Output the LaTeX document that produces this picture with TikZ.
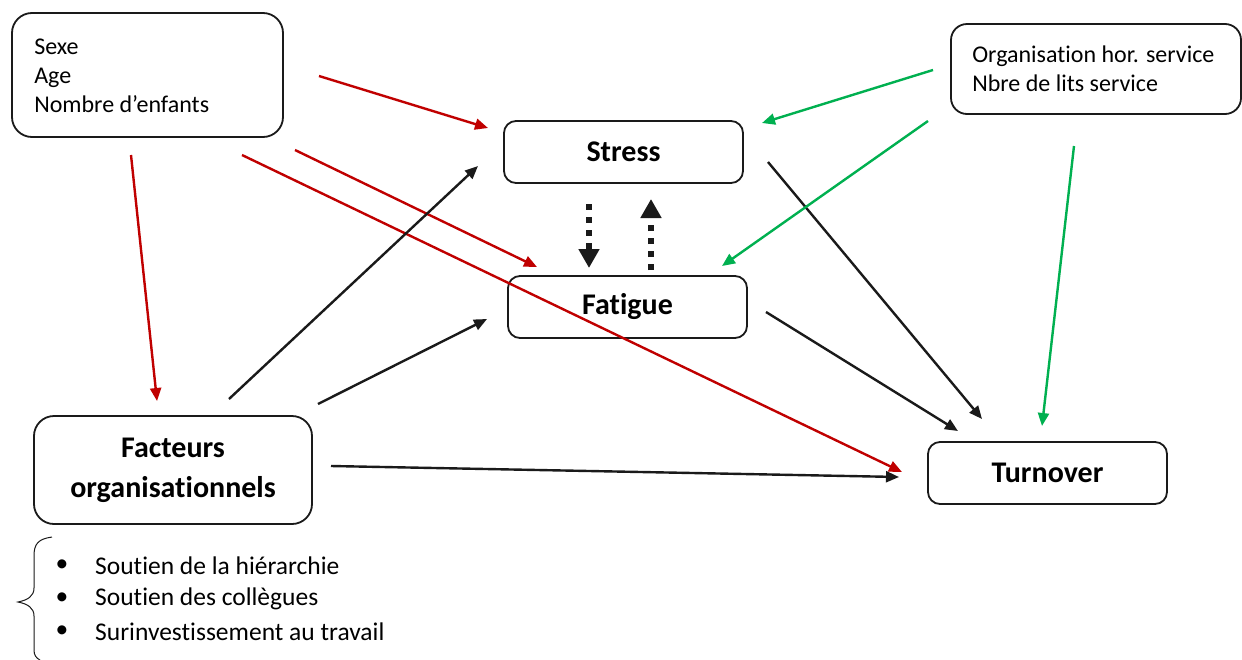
\documentclass[tikz,border=0pt]{standalone}
\usepackage{fontspec}
\setmainfont{Carlito}[Ligatures=NoCommon]
\usetikzlibrary{arrows.meta}
\definecolor{myred}{HTML}{C00000}
\definecolor{mygreen}{HTML}{00B050}
\definecolor{myblack}{HTML}{1A1A1A}
\newcommand{\regsz}{\fontsize{24}{29}\selectfont}
\newcommand{\listsz}{\fontsize{25.5}{33}\selectfont}
\newcommand{\boldsz}{\fontsize{30}{40}\selectfont\bfseries}
\begin{document}
\begin{tikzpicture}[x=1pt,y=-1pt,
  box/.style={draw=myblack, line width=1.8pt, rounded corners=12pt},
  bigbox/.style={box, minimum width=239pt, minimum height=62pt, font=\boldsz, inner sep=0pt},
  boxtext/.style={anchor=west, align=left, font=\regsz, inner sep=0pt},
  conn/.style={line width=2.4pt, -{Triangle[length=13pt,width=11pt]}},
  redarr/.style={conn, draw=myred, fill=myred},
  greenarr/.style={conn, draw=mygreen, fill=mygreen},
  blackarr/.style={conn, draw=myblack, fill=myblack},
  dotarr/.style={line width=6pt, draw=myblack, dash pattern=on 6pt off 7pt, -{Triangle[length=19pt,width=20pt]}},
  listtext/.style={anchor=west, font=\listsz, inner sep=0pt},
  bullet/.style={font=\listsz, inner sep=0pt}
]
\useasboundingbox (0,0) rectangle (1242,659);
\fill[white] (0,0) rectangle (1242,659);

% boxes
\node[box, rounded corners=20pt, minimum width=271pt, minimum height=124pt] (demo) at (147.5,75) {};
\node[boxtext] (demotxt) at ([xshift=23pt,yshift=-1pt]demo.west) {Sexe\\Age\\Nombre d’enfants};
\node[box, rounded corners=16pt, minimum width=290pt, minimum height=90pt] (org) at (1096,69) {};
\node[boxtext] (orgtxt) at ([xshift=22pt]org.west) {Organisation hor. service\\Nbre de lits service};
\node[bigbox] (stress) at (623.5,152) {Stress};
\node[bigbox] (fatigue) at (627.5,307) {Fatigue};
\node[bigbox] (turnover) at (1047.5,473) {Turnover};
\node[box, rounded corners=20pt, minimum width=278pt, minimum height=108pt, align=center,
      font=\boldsz, inner sep=0pt] (fact) at (173,470) {Facteurs\\organisationnels};

% brace
\draw[myblack, line width=1pt] (52,537) .. controls (38,539) and (34,544) .. (34,556)
  -- (34,588) .. controls (34,596) and (28,600) .. (18,602)
  .. controls (28,604) and (34,608) .. (34,616)
  -- (34,650) .. controls (34,655) and (36,658) .. (40,660);

% bullet list
\node[bullet] (b1) at (62,566) {•};
\node[bullet] (b2) at (62,599) {•};
\node[bullet] (b3) at (62,632) {•};
\node[listtext] (l1) at (95,566) {Soutien de la hiérarchie};
\node[listtext] (l2) at (95,599) {Soutien des collègues};
\node[listtext] (l3) at (95,632) {Surinvestissement au travail};

% connector end points
\coordinate (r1s) at (319,76);   \coordinate (r1e) at (488,128);
\coordinate (r2s) at (295,150);  \coordinate (r2e) at (537,267);
\coordinate (r3s) at (242,155);  \coordinate (r3e) at (902,472);
\coordinate (r4s) at (131,155);  \coordinate (r4e) at (157,401);
\coordinate (k1s) at (229,399);  \coordinate (k1e) at (478,166);
\coordinate (k2s) at (318,404);  \coordinate (k2e) at (487,319);
\coordinate (k3s) at (331,466);  \coordinate (k3e) at (899,477);
\coordinate (k4s) at (768,162);  \coordinate (k4e) at (982,419);
\coordinate (k5s) at (766,312);  \coordinate (k5e) at (958,431);
\coordinate (g1s) at (933,70);   \coordinate (g1e) at (762,123);
\coordinate (g2s) at (928,121);  \coordinate (g2e) at (722,266);
\coordinate (g3s) at (1074,146); \coordinate (g3e) at (1042,426);
\coordinate (d1s) at (589,204);  \coordinate (d1e) at (589,268);
\coordinate (d2s) at (651,270);  \coordinate (d2e) at (651,199);

% red
\draw[redarr] (r1s) -- (r1e);
\draw[redarr] (r2s) -- (r2e);
\draw[redarr] (r3s) -- (r3e);
\draw[redarr] (r4s) -- (r4e);
% black
\draw[blackarr] (k1s) -- (k1e);
\draw[blackarr] (k2s) -- (k2e);
\draw[blackarr] (k3s) -- (k3e);
\draw[blackarr] (k4s) -- (k4e);
\draw[blackarr] (k5s) -- (k5e);
% green
\draw[greenarr] (g1s) -- (g1e);
\draw[greenarr] (g2s) -- (g2e);
\draw[greenarr] (g3s) -- (g3e);
% dotted
\draw[dotarr] (d1s) -- (d1e);
\draw[dotarr] (d2s) -- (d2e);
\end{tikzpicture}
\end{document}
